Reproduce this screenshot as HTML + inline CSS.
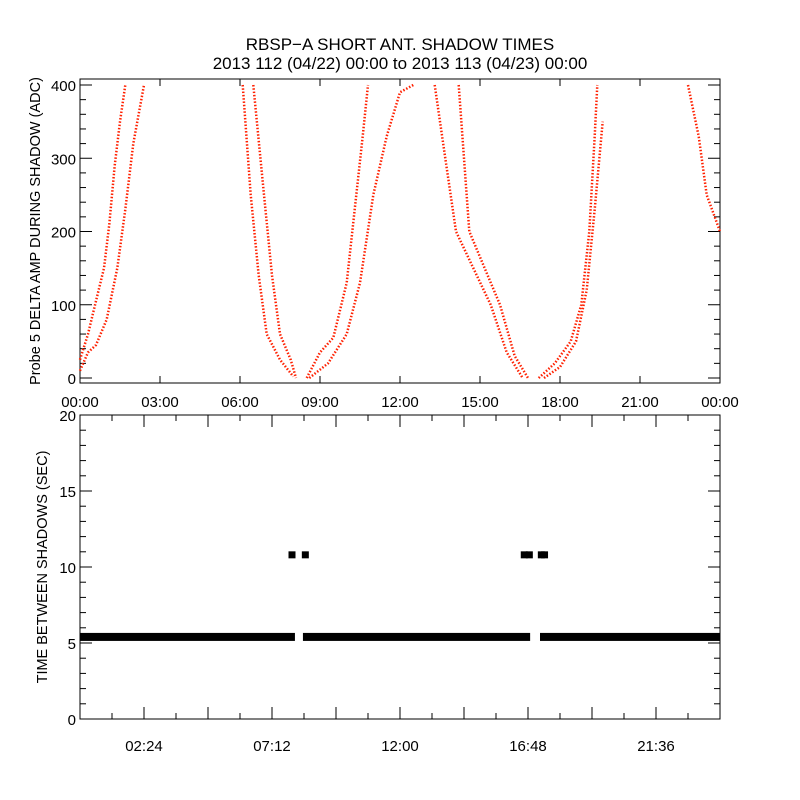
<!DOCTYPE html>
<html><head><meta charset="utf-8"><style>
body{margin:0;background:#fff;}
svg{display:block;font-family:"Liberation Sans",sans-serif;}
text{fill:#000;}
</style></head><body>
<svg id="c" width="800" height="800" viewBox="0 0 800 800">
<rect width="800" height="800" fill="#fff"/>
<text x="400" y="50" font-size="17" text-anchor="middle">RBSP−A SHORT ANT. SHADOW TIMES</text>
<text x="400" y="69" font-size="17" text-anchor="middle">2013 112 (04/22) 00:00 to 2013 113 (04/23) 00:00</text>
<g id="topPanel"></g>
<g id="botPanel"></g>
</svg>
<script>
// ---- top panel data (hours, ADC) ----
const branchA1Hours=[0,0.3,0.5,0.9,1.1,1.3,1.5,1.7];
const branchA1Vals=[25,60,90,150,210,290,350,400];
const branchA2Hours=[0,0.3,0.6,1.0,1.4,1.7,2.0,2.4];
const branchA2Vals=[10,35,45,80,150,230,320,400];
const branchB1Hours=[6.1,6.4,6.7,7.0,7.5,8.0];
const branchB1Vals=[400,250,140,60,25,2];
const branchB2Hours=[6.5,6.9,7.2,7.5,7.9,8.1];
const branchB2Vals=[400,250,140,60,25,0];
const branchC1Hours=[8.5,9.0,9.5,10.0,10.3,10.6,10.8];
const branchC1Vals=[0,35,55,130,230,330,400];
const branchC2Hours=[8.6,9.3,10.0,10.5,11.0,11.5,12.0,12.5];
const branchC2Vals=[0,20,60,130,250,330,390,400];
const branchD1Hours=[13.3,13.7,14.1,15.4,16.0,16.6];
const branchD1Vals=[400,300,200,100,35,0];
const branchD2Hours=[14.2,14.4,14.6,15.75,16.3,16.8];
const branchD2Vals=[400,300,200,100,30,0];
const branchE1Hours=[17.2,17.8,18.4,18.8,19.1,19.3,19.4];
const branchE1Vals=[0,20,50,100,200,330,400];
const branchE2Hours=[17.4,18.0,18.6,19.0,19.3,19.6];
const branchE2Vals=[0,15,50,120,230,350];
const branchF1Hours=[22.8,23.2,23.5,24];
const branchF1Vals=[400,330,250,200];
const topXTicks=["00:00","03:00","06:00","09:00","12:00","15:00","18:00","21:00","00:00"];
const topYTicks=[0,100,200,300,400];
// ---- bottom panel data ----
const gapSegStart=[0,8.36,17.25];
const gapSegEnd=[8.06,16.88,24];
const gapSegVal=[5.4,5.4,5.4];
const spikeHours=[7.95,8.45,16.66,16.85,17.3,17.42];
const spikeVals=[10.8,10.8,10.8,10.8,10.8,10.8];
const botXTicks=["02:24","07:12","12:00","16:48","21:36"];
const botYTicks=[0,5,10,15,20];

const NS="http://www.w3.org/2000/svg";
function mk(t,a,p){const e=document.createElementNS(NS,t);for(const k in a)e.setAttribute(k,a[k]);p.appendChild(e);return e;}
const L=80,R=720;
const xs=h=>L+(h/24)*(R-L);
const ty=v=>378-v*(293/400);
const by=v=>719-v*(304/20);
const topG=document.getElementById('topPanel'),botG=document.getElementById('botPanel');
let e;

// top axes
e=mk('rect',{x:L,y:79,width:R-L,height:304,fill:'none',stroke:'#000','stroke-width':1},topG);


for(let h=0;h<=24;h+=3){const x=xs(h);
 mk('line',{x1:x,y1:383,x2:x,y2:376,stroke:'#000'},topG);mk('line',{x1:x,y1:79,x2:x,y2:86,stroke:'#000'},topG);}
for(let v=0;v<=400;v+=20){const big=v%100===0;const y=ty(v);
 mk('line',{x1:L,y1:y,x2:L+(big?12:6),y2:y,stroke:'#000'},topG);mk('line',{x1:R,y1:y,x2:R-(big?12:6),y2:y,stroke:'#000'},topG);}
topXTicks.forEach((t,i)=>{e=mk('text',{x:xs(i*3),y:407,'font-size':15,'text-anchor':'middle'},topG);e.textContent=t;
 
 });
topYTicks.forEach(v=>{e=mk('text',{x:76,y:ty(v)+6,'font-size':15,'text-anchor':'end'},topG);e.textContent=v;
 
 });
e=mk('text',{transform:'translate(40,231) rotate(-90)','font-size':14.5,'text-anchor':'middle'},topG);
e.textContent='Probe 5 DELTA AMP DURING SHADOW (ADC)';



const branches=[[branchA1Hours,branchA1Vals],[branchA2Hours,branchA2Vals],[branchB1Hours,branchB1Vals],[branchB2Hours,branchB2Vals],
[branchC1Hours,branchC1Vals],[branchC2Hours,branchC2Vals],[branchD1Hours,branchD1Vals],[branchD2Hours,branchD2Vals],
[branchE1Hours,branchE1Vals],[branchE2Hours,branchE2Vals],[branchF1Hours,branchF1Vals]];
branches.forEach((b,i)=>{const pts=b[0].map((h,j)=>xs(h).toFixed(1)+','+ty(b[1][j]).toFixed(1)).join(' ');
 e=mk('polyline',{points:pts,fill:'none',stroke:'#ff2000','stroke-width':2.5,'stroke-dasharray':'1.5 1.8'},topG);
 
 });

// bottom axes
e=mk('rect',{x:L,y:415,width:R-L,height:304,fill:'none',stroke:'#000','stroke-width':1},botG);


for(let k=0;k<=20;k++){const x=xs(k*1.2);const big=k%2===0;
 mk('line',{x1:x,y1:719,x2:x,y2:719-(big?12:6),stroke:'#000'},botG);mk('line',{x1:x,y1:415,x2:x,y2:415+(big?12:6),stroke:'#000'},botG);}
for(let v=0;v<=20;v+=1){const big=v%5===0;const y=by(v);
 mk('line',{x1:L,y1:y,x2:L+(big?12:6),y2:y,stroke:'#000'},botG);mk('line',{x1:R,y1:y,x2:R-(big?12:6),y2:y,stroke:'#000'},botG);}
botXTicks.forEach((t,i)=>{e=mk('text',{x:xs(2.4+i*4.8),y:751,'font-size':15,'text-anchor':'middle'},botG);e.textContent=t;
 
 });
botYTicks.forEach(v=>{e=mk('text',{x:76,y:by(v)+6,'font-size':15,'text-anchor':'end'},botG);e.textContent=v;
 
 });
e=mk('text',{transform:'translate(47,567) rotate(-90)','font-size':14.5,'text-anchor':'middle'},botG);
e.textContent='TIME BETWEEN SHADOWS (SEC)';


gapSegStart.forEach((s,i)=>{const y=by(gapSegVal[i]);
 e=mk('rect',{x:xs(s),y:y-4,width:xs(gapSegEnd[i])-xs(s),height:8,fill:'#000'},botG);
 
 });
spikeHours.forEach((h,i)=>{
 e=mk('rect',{x:xs(h)-3.5,y:by(spikeVals[i])-3.5,width:7,height:7,fill:'#000'},botG);
 
 });
</script>
</body></html>
